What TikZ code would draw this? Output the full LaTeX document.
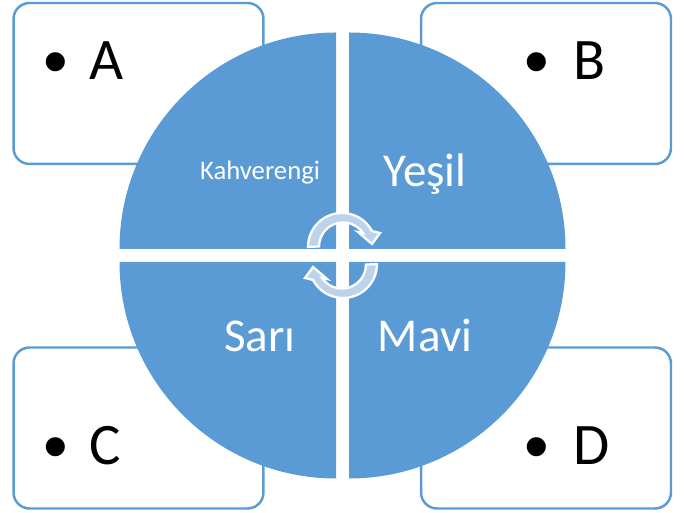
\documentclass[tikz,border=0pt]{standalone}
\usepackage{fontspec}
\setmainfont{Carlito}
\newfontfamily\bulletfont{Liberation Sans}
\definecolor{quadblue}{HTML}{5B9BD5}
\definecolor{arrowfill}{HTML}{BDD3EC}
\tikzset{
  itembox/.style={draw=quadblue, line width=1.4pt, rounded corners=0.32cm, fill=white,
    minimum width=5.0cm, minimum height=3.22cm, inner sep=0pt},
  itemtext/.style={anchor=base west, inner sep=0pt, text=black, font=\fontsize{33.5}{40}\selectfont},
  quadtext/.style={anchor=base, inner sep=0pt, text=white, font=\fontsize{26.8}{32}\selectfont},
  cyclearrow/.style={draw=white, line width=1.3pt, fill=arrowfill, line join=miter},
}
\newcommand{\itembullet}{\raisebox{-0.12cm}{\bulletfont\fontsize{40}{40}\selectfont\char"2022}\hspace{0.36em}}
\begin{document}
\begin{tikzpicture}[x=0.02cm,y=0.02cm]
    \useasboundingbox (0,0) rectangle (686,513);

    % --- Outer boxes ---
    \node[itembox] (boxA) at (138.5,429.5) {};
    \node[itembox] (boxB) at (546,429.5) {};
    \node[itembox] (boxC) at (138.5,85) {};
    \node[itembox] (boxD) at (546,85) {};

    % --- Box texts ---
    \node[itemtext] (textA) at (43,433) {\itembullet A};
    \node[itemtext] (textB) at (524,433) {\itembullet\hspace{0.06cm}B};
    \node[itemtext] (textC) at (43,48) {\itembullet C};
    \node[itemtext] (textD) at (524,48) {\itembullet\hspace{0.06cm}D};

    % --- Quadrants ---
    \fill[quadblue] (336,264) -- (119.5,264) arc[start angle=180, end angle=90, radius=216.5] -- cycle;
    \fill[quadblue] (349,264) -- (349,480.5) arc[start angle=90, end angle=0, radius=216.5] -- cycle;
    \fill[quadblue] (336,251) -- (119.5,251) arc[start angle=180, end angle=270, radius=216.5] -- cycle;
    \fill[quadblue] (349,251) -- (349,34.5) arc[start angle=270, end angle=360, radius=216.5] -- cycle;

    % --- Quadrant labels ---
    \node[quadtext, font=\fontsize{15.2}{18}\selectfont] (brown) at (260,333) {Kahverengi};
    \node[quadtext] (green) at (425,326) {Yeşil};
    \node[quadtext] (yellow) at (260,161) {Sarı};
    \node[quadtext] (blue) at (425,161) {Mavi};

    % --- Cycle arrows ---
    \foreach \ang/\cx/\cy in {0/342/266, 180/343/249} {
      \begin{scope}[shift={(\cx,\cy)}, rotate=\ang]
        \draw[cyclearrow] (-34,0) arc[start angle=180, end angle=28, radius=34]
          -- (38,14) -- (30,3) -- (16,15)
          -- (21,14) arc[start angle=34, end angle=180, radius=24] -- cycle;
      \end{scope}
    }

\end{tikzpicture}
\end{document}
